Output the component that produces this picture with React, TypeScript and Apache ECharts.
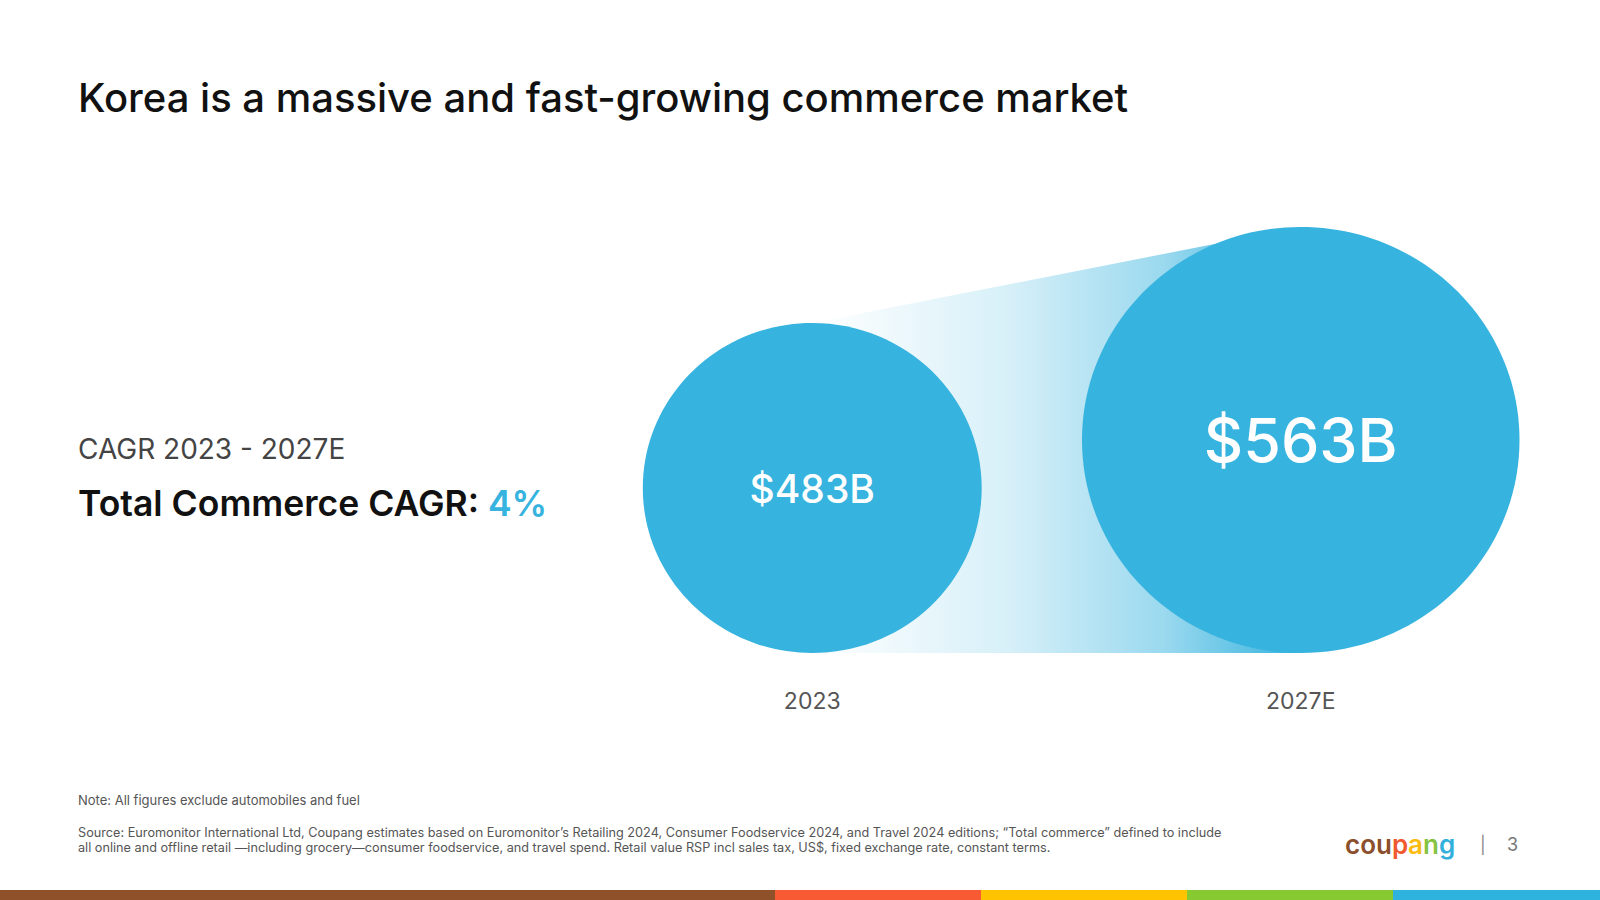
import React, { useEffect, useRef } from "react";
import * as echarts from "echarts";

const categories = ["2023", "2027E"];
const marketValues = [483, 563];
const valueLabels = ["$483B", "$563B"];
const cagrValue = "4%";
const Y_MIN = 208;
const Y_MAX = 563;

const BLUE = "#36b3de";
const FONT = "Inter, 'Noto Sans', sans-serif";

export default function App() {
  const ref = useRef<HTMLDivElement>(null);
  useEffect(() => {
    document.body.style.margin = "0";
    const chart = echarts.init(ref.current!, null, { renderer: "svg" });
    const labelSizes = [39, 61];
    const option: any = {
      animation: false,
      backgroundColor: "#ffffff",
      grid: { left: 568, right: 55, top: 227, bottom: 247 },
      xAxis: {
        type: "category",
        data: categories,
        axisLine: { show: false },
        axisTick: { show: false },
        axisLabel: { color: "#555555", fontSize: 23, fontFamily: FONT, margin: 36 },
        splitLine: { show: false },
      },
      yAxis: {
        type: "value",
        min: Y_MIN,
        max: Y_MAX,
        show: false,
        splitLine: { show: false },
      },
      series: [
        {
          type: "custom",
          z: 1,
          data: [[0, marketValues[0], 1, marketValues[1]]],
          encode: { x: [0, 2], y: [1, 3] },
          renderItem: (params: any, api: any) => {
            const a = api.coord([api.value(0), api.value(1)]);
            const b = api.coord([api.value(2), api.value(3)]);
            const bb = api.coord([api.value(2), Y_MIN]);
            const ab = api.coord([api.value(0), Y_MIN]);
            return {
              type: "polygon",
              shape: { points: [a, b, bb, ab] },
              style: {
                fill: new echarts.graphic.LinearGradient(0, 0, 1, 0, [
                  { offset: 0, color: "rgba(54,179,222,0)" },
                  { offset: 0.4, color: "rgba(54,179,222,0.2)" },
                  { offset: 0.72, color: "rgba(54,179,222,0.5)" },
                  { offset: 1, color: "rgba(54,179,222,1)" },
                ]),
              },
            };
          },
        },
        {
          type: "custom",
          z: 2,
          data: marketValues.map((v, i) => [i, v]),
          renderItem: (params: any, api: any) => {
            const top = api.coord([api.value(0), api.value(1)]);
            const base = api.coord([api.value(0), Y_MIN]);
            const ry = (base[1] - top[1]) / 2;
            const rx = ry * 1.027;
            const cx = top[0];
            const cy = top[1] + ry;
            const i = params.dataIndex;
            return {
              type: "group",
              children: [
                {
                  type: "ellipse",
                  shape: { cx, cy, rx, ry },
                  style: { fill: BLUE },
                },
                {
                  type: "text",
                  x: cx,
                  y: cy,
                  style: {
                    text: valueLabels[i],
                    fill: "#ffffff",
                    fontSize: labelSizes[i],
                    fontWeight: 500,
                    fontFamily: FONT,
                    align: "center",
                    verticalAlign: "middle",
                  },
                },
              ],
            };
          },
        },
      ],
      graphic: [
        {
          type: "text",
          left: 78,
          top: 77,
          style: {
            text: "Korea is a massive and fast-growing commerce market",
            fill: "#111111",
            fontSize: 40,
            fontWeight: 500,
            fontFamily: FONT,
          },
        },
        {
          type: "text",
          left: 78,
          top: 435,
          style: {
            text: "CAGR 2023 - 2027E",
            fill: "#444444",
            fontSize: 28,
            fontWeight: 400,
            fontFamily: FONT,
          },
        },
        {
          type: "text",
          left: 78,
          top: 485,
          style: {
            text: "{a|Total Commerce CAGR: }{b|" + cagrValue + "}",
            rich: {
              a: { fill: "#111111", fontSize: 35.5, fontWeight: 600, fontFamily: FONT },
              b: { fill: BLUE, fontSize: 35.5, fontWeight: 600, fontFamily: FONT },
            },
          },
        },
        {
          type: "text",
          left: 78,
          top: 793,
          style: {
            text: "Note: All figures exclude automobiles and fuel",
            fill: "#555555",
            fontSize: 13,
            fontFamily: FONT,
          },
        },
        {
          type: "text",
          left: 78,
          top: 825,
          style: {
            text:
              "Source: Euromonitor International Ltd, Coupang estimates based on Euromonitor\u2019s Retailing 2024, Consumer Foodservice 2024, and Travel 2024 editions; \u201cTotal commerce\u201d defined to include\nall online and offline retail \u2014including grocery\u2014consumer foodservice, and travel spend. Retail value RSP incl sales tax, US$, fixed exchange rate, constant terms.",
            fill: "#555555",
            fontSize: 12.7,
            lineHeight: 15,
            fontFamily: FONT,
          },
        },
        {
          type: "text",
          left: 1345,
          top: 831,
          style: {
            text: "{c|cou}{p|p}{a|a}{n|n}{g|g}",
            rich: {
              c: { fill: "#8b4f2b", fontSize: 26, fontWeight: 600, fontFamily: FONT },
              p: { fill: "#f15a31", fontSize: 26, fontWeight: 600, fontFamily: FONT },
              a: { fill: "#fbbc0f", fontSize: 26, fontWeight: 600, fontFamily: FONT },
              n: { fill: "#85c341", fontSize: 26, fontWeight: 600, fontFamily: FONT },
              g: { fill: "#33b0dc", fontSize: 26, fontWeight: 600, fontFamily: FONT },
            },
          },
        },
        {
          type: "text",
          left: 1480,
          top: 836,
          style: { text: "|", fill: "#888888", fontSize: 17, fontFamily: FONT },
        },
        {
          type: "text",
          left: 1507,
          top: 835,
          style: { text: "3", fill: "#777777", fontSize: 18, fontFamily: FONT },
        },
        { type: "rect", shape: { x: 0, y: 890, width: 775, height: 10 }, style: { fill: "#8e5129" } },
        { type: "rect", shape: { x: 775, y: 890, width: 206, height: 10 }, style: { fill: "#f85a33" } },
        { type: "rect", shape: { x: 981, y: 890, width: 206, height: 10 }, style: { fill: "#ffc300" } },
        { type: "rect", shape: { x: 1187, y: 890, width: 206, height: 10 }, style: { fill: "#86c930" } },
        { type: "rect", shape: { x: 1393, y: 890, width: 207, height: 10 }, style: { fill: "#2db3dd" } },
      ],
    };
    chart.setOption(option);
    return () => chart.dispose();
  }, []);
  return <div ref={ref} style={{ width: 1600, height: 900 }} />;
}
